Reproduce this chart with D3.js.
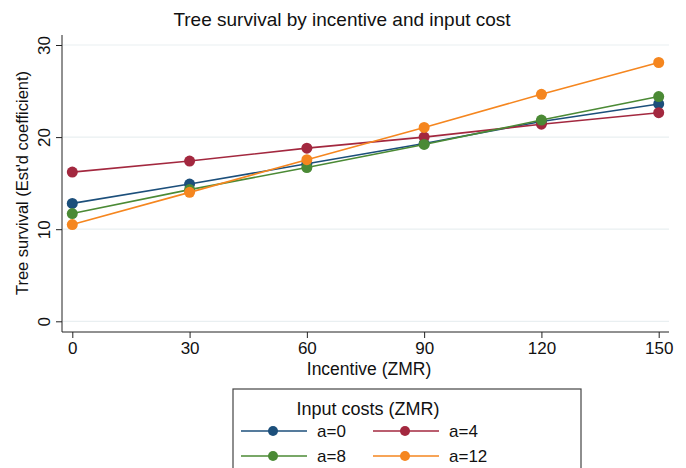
<!DOCTYPE html>
<html>
<head>
<meta charset="utf-8">
<script src="https://cdn.jsdelivr.net/npm/d3@7"></script>
<style>
  body { margin: 0; background: #fff; }
  svg { font-family: "Liberation Sans", Arial, sans-serif; }
</style>
</head>
<body>
<div id="container"></div>
<script>
// Chart data
const incentives = [0, 30, 60, 90, 120, 150];
const seriesNames = ["a=0", "a=4", "a=8", "a=12"];
const a0 = [12.8, 14.9, 17.1, 19.3, 21.7, 23.6];
const a4 = [16.2, 17.4, 18.8, 20.0, 21.4, 22.65];
const a8 = [11.7, 14.3, 16.7, 19.2, 21.85, 24.4];
const a12 = [10.5, 14.0, 17.55, 21.05, 24.65, 28.1];
const yTicks = [0, 10, 20, 30];
const xTicks = [0, 30, 60, 90, 120, 150];

const colors = ["#1c4f7b", "#a3283f", "#4b8a35", "#f5861f"];
const allSeries = [a0, a4, a8, a12];

const width = 686, height = 468;

const svg = d3.select("#container").append("svg")
    .attr("width", width)
    .attr("height", height);

// scales
const x = d3.scaleLinear().domain([0, 150]).range([72.3, 658.7]);
const y = d3.scaleLinear().domain([0, 30]).range([321.3, 45]);

// gridlines
svg.append("g")
  .selectAll("line")
  .data(yTicks)
  .join("line")
    .attr("x1", 63)
    .attr("x2", 669)
    .attr("y1", d => y(d))
    .attr("y2", d => y(d))
    .attr("stroke", "#e9eff1")
    .attr("stroke-width", 1.2);

// y axis (labels rotated like Stata)
const yAxis = svg.append("g")
    .attr("transform", "translate(62,0)")
    .call(d3.axisLeft(y).tickValues(yTicks).tickSize(6));
yAxis.select(".domain").attr("d", "M0,35V332");
yAxis.selectAll("text")
    .attr("font-size", 17)
    .attr("font-family", "Liberation Sans, Arial, sans-serif")
    .attr("fill", "#111")
    .attr("x", 0)
    .attr("y", 0)
    .attr("dy", null)
    .attr("text-anchor", "middle")
    .attr("transform", "translate(-12,0) rotate(-90)");

// x axis
const xAxis = svg.append("g")
    .attr("transform", "translate(0,332)")
    .call(d3.axisBottom(x).tickValues(xTicks).tickSize(6).tickPadding(4));
xAxis.select(".domain").attr("d", "M62,0H669");
xAxis.selectAll("text")
    .attr("font-size", 17)
    .attr("font-family", "Liberation Sans, Arial, sans-serif")
    .attr("fill", "#111");

svg.selectAll(".domain, .tick line").attr("stroke", "#222");

// title + axis titles
svg.append("text")
    .attr("x", 342).attr("y", 26)
    .attr("text-anchor", "middle")
    .attr("font-size", 19)
    .attr("fill", "#111")
    .text("Tree survival by incentive and input cost");

svg.append("text")
    .attr("x", 369).attr("y", 375)
    .attr("text-anchor", "middle")
    .attr("font-size", 17.5)
    .attr("fill", "#111")
    .text("Incentive (ZMR)");

svg.append("text")
    .attr("transform", "translate(28,183) rotate(-90)")
    .attr("text-anchor", "middle")
    .attr("font-size", 16.5)
    .attr("fill", "#111")
    .text("Tree survival (Est'd coefficient)");

// series
const line = d3.line()
    .x((d, i) => x(incentives[i]))
    .y(d => y(d));

allSeries.forEach((vals, k) => {
  svg.append("path")
    .datum(vals)
    .attr("d", line)
    .attr("fill", "none")
    .attr("stroke", colors[k])
    .attr("stroke-width", 1.6);

  svg.append("g")
    .selectAll("circle")
    .data(vals)
    .join("circle")
      .attr("cx", (d, i) => x(incentives[i]))
      .attr("cy", d => y(d))
      .attr("r", 5.5)
      .attr("fill", colors[k]);
});

// legend
const legend = svg.append("g");
legend.append("rect")
    .attr("x", 233).attr("y", 389)
    .attr("width", 348).attr("height", 100)
    .attr("fill", "#fff")
    .attr("stroke", "#444")
    .attr("stroke-width", 1.2);

legend.append("text")
    .attr("x", 368).attr("y", 415)
    .attr("text-anchor", "middle")
    .attr("font-size", 18)
    .attr("fill", "#111")
    .text("Input costs (ZMR)");

const legPos = [[241, 431], [373, 431], [241, 456], [373, 456]];
seriesNames.forEach((name, k) => {
  const [lx, ly] = legPos[k];
  legend.append("line")
    .attr("x1", lx).attr("x2", lx + 66)
    .attr("y1", ly).attr("y2", ly)
    .attr("stroke", colors[k])
    .attr("stroke-width", 1.6);
  legend.append("circle")
    .attr("cx", lx + 32).attr("cy", ly)
    .attr("r", 5)
    .attr("fill", colors[k]);
  legend.append("text")
    .attr("x", lx + 76).attr("y", ly + 6)
    .attr("font-size", 17)
    .attr("fill", "#111")
    .text(name);
});
</script>
</body>
</html>
